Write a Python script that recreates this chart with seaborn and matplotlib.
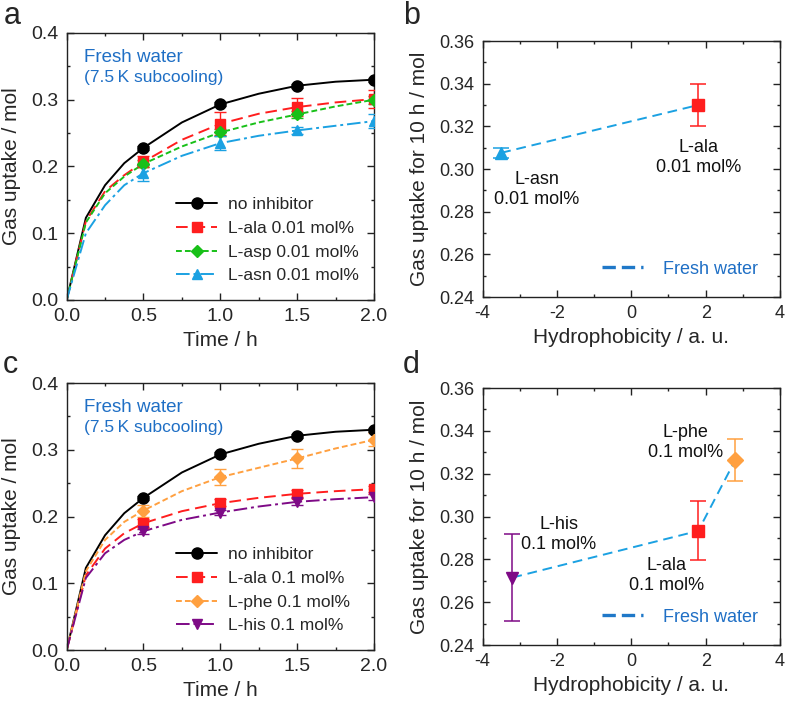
import matplotlib
matplotlib.use("Agg")
import matplotlib.pyplot as plt
from matplotlib.lines import Line2D
from matplotlib.ticker import MultipleLocator
import seaborn as sns

# === Kinetics data (panels a, c) ===
t_line = [0, 0.125, 0.25, 0.375, 0.5, 0.75, 1.0, 1.25, 1.5, 1.75, 2.0]
t_meas = [0.5, 1.0, 1.5, 2.0]

none_line = [0, 0.123, 0.172, 0.205, 0.228, 0.266, 0.293, 0.309, 0.321, 0.327, 0.330]
none_meas = [0.228, 0.293, 0.321, 0.330]
none_err = [0.003, 0.003, 0.003, 0.003]

ala01_line = [0, 0.118, 0.163, 0.187, 0.207, 0.240, 0.264, 0.279, 0.289, 0.296, 0.301]
ala01_meas = [0.207, 0.264, 0.289, 0.301]
ala01_err = [0.008, 0.017, 0.014, 0.013]

asp01_line = [0, 0.116, 0.160, 0.185, 0.204, 0.230, 0.251, 0.266, 0.278, 0.290, 0.300]
asp01_meas = [0.204, 0.251, 0.278, 0.300]
asp01_err = [0.005, 0.005, 0.005, 0.006]

asn01_line = [0, 0.100, 0.142, 0.172, 0.190, 0.216, 0.235, 0.246, 0.254, 0.261, 0.268]
asn01_meas = [0.190, 0.235, 0.254, 0.268]
asn01_err = [0.012, 0.010, 0.005, 0.010]

ala1_line = [0, 0.112, 0.152, 0.175, 0.190, 0.208, 0.220, 0.228, 0.234, 0.238, 0.241]
ala1_meas = [0.190, 0.221, 0.234, 0.241]
ala1_err = [0.006, 0.005, 0.005, 0.005]

phe1_line = [0, 0.118, 0.165, 0.192, 0.209, 0.238, 0.259, 0.273, 0.287, 0.302, 0.315]
phe1_meas = [0.209, 0.259, 0.287, 0.315]
phe1_err = [0.009, 0.012, 0.014, 0.010]

his1_line = [0, 0.108, 0.145, 0.165, 0.178, 0.195, 0.206, 0.215, 0.222, 0.226, 0.229]
his1_meas = [0.178, 0.206, 0.222, 0.229]
his1_err = [0.004, 0.004, 0.005, 0.004]

# === Hydrophobicity data (panels b, d) ===
hyd_b = [-3.5, 1.8]
uptake_b = [0.3076, 0.330]
err_b = [0.0023, 0.0097]

hyd_d = [-3.2, 1.8, 2.8]
uptake_d = [0.2715, 0.2933, 0.3265]
err_d = [0.0205, 0.0138, 0.0098]

# === Styles ===
BLACK, RED, GREEN, BLUE = "#000000", "#FF1E1E", "#18C018", "#1BA1E2"
ORANGE, PURPLE, TXTBLUE = "#FFA040", "#7E0A86", "#1F6FC5"

sns.set_theme(style="ticks")
plt.rcParams['font.family'] = ['Liberation Sans', 'DejaVu Sans']
plt.rcParams['axes.edgecolor'] = "#222222"
plt.rcParams['axes.linewidth'] = 1.0
plt.rcParams['axes.unicode_minus'] = False

fig = plt.figure(figsize=(7.87, 7.05), dpi=100)
ax_a = fig.add_axes([0.0847, 0.5745, 0.3905, 0.3787])
ax_b = fig.add_axes([0.6133, 0.5787, 0.3778, 0.3631])
ax_c = fig.add_axes([0.0847, 0.0780, 0.3905, 0.3787])
ax_d = fig.add_axes([0.6133, 0.0851, 0.3778, 0.3645])


def style_axes(ax, xmaj, xmin, ymaj, ymin, labelsize):
    ax.xaxis.set_major_locator(MultipleLocator(xmaj))
    ax.xaxis.set_minor_locator(MultipleLocator(xmin))
    ax.yaxis.set_major_locator(MultipleLocator(ymaj))
    ax.yaxis.set_minor_locator(MultipleLocator(ymin))
    ax.tick_params(which='both', direction='in', top=True, right=True,
                   color="#222222")
    ax.tick_params(which='major', length=5, width=1, labelsize=labelsize, pad=6)
    ax.tick_params(which='minor', length=2.5, width=1)


def kinetics_panel(ax, series):
    handles = []
    for label, line_vals, meas, err, color, ls, marker, ms in series:
        sns.lineplot(x=t_line, y=line_vals, ax=ax, color=color, linestyle=ls,
                     linewidth=1.4, errorbar=None)
        ax.errorbar(t_meas, meas, yerr=err, fmt=marker, color=color, ms=ms,
                    capsize=4, elinewidth=1, capthick=1, zorder=3)
        handles.append(Line2D([], [], color=color, linestyle=ls, lw=1.4,
                              marker=marker, ms=ms, label=label))
    ax.set_xlim(0, 2.0)
    ax.set_ylim(0, 0.4)
    style_axes(ax, 0.5, 0.25, 0.1, 0.05, 14)
    ax.set_xlabel("Time / h", fontsize=15, labelpad=4)
    ax.set_ylabel("Gas uptake / mol", fontsize=15, labelpad=7)
    ax.text(0.055, 0.91, "Fresh water", transform=ax.transAxes, color=TXTBLUE,
            fontsize=13.5, va='center')
    ax.text(0.055, 0.835, "(7.5\u2009K subcooling)", transform=ax.transAxes,
            color=TXTBLUE, fontsize=12.5, va='center')
    ax.legend(handles=handles, loc='lower left', bbox_to_anchor=(0.355, 0.062),
              frameon=False, fontsize=12.5, handlelength=2.4,
              handletextpad=0.6, labelspacing=0.5, borderpad=0,
              borderaxespad=0)


dash_long = (0, (6, 3))
dash_short = (0, (3, 1.6))
dash_dot = (0, (7, 2, 1.5, 2))

kinetics_panel(ax_a, [
    ("no inhibitor", none_line, none_meas, none_err, BLACK, '-', 'o', 8),
    ("L-ala 0.01 mol%", ala01_line, ala01_meas, ala01_err, RED, dash_long, 's', 7),
    ("L-asp 0.01 mol%", asp01_line, asp01_meas, asp01_err, GREEN, dash_short, 'D', 6.5),
    ("L-asn 0.01 mol%", asn01_line, asn01_meas, asn01_err, BLUE, dash_dot, '^', 7.5),
])

kinetics_panel(ax_c, [
    ("no inhibitor", none_line, none_meas, none_err, BLACK, '-', 'o', 8),
    ("L-ala 0.1 mol%", ala1_line, ala1_meas, ala1_err, RED, dash_long, 's', 7),
    ("L-phe 0.1 mol%", phe1_line, phe1_meas, phe1_err, ORANGE, dash_short, 'D', 6.5),
    ("L-his 0.1 mol%", his1_line, his1_meas, his1_err, PURPLE, dash_dot, 'v', 7.5),
])


def hydro_panel(ax, xs, ys, errs, colors, markers, sizes, labels):
    sns.lineplot(x=xs, y=ys, ax=ax, color=BLUE, linestyle=(0, (5, 3)),
                 linewidth=1.4, errorbar=None, sort=False)
    for x, y, e, c, m, s in zip(xs, ys, errs, colors, markers, sizes):
        ax.errorbar([x], [y], yerr=[e], fmt=m, color=c, ms=s, capsize=6,
                    elinewidth=1.1, capthick=1.1, zorder=3)
    for text, tx, ty in labels:
        ax.text(tx, ty, text, ha='center', va='center', fontsize=13,
                linespacing=1.25, color="#111111")
    ax.set_xlim(-4, 4)
    ax.set_ylim(0.24, 0.36)
    style_axes(ax, 2, 1, 0.02, 0.01, 13)
    ax.set_xlabel("Hydrophobicity / a. u.", fontsize=15, labelpad=4)
    ax.set_ylabel("Gas uptake for 10 h / mol", fontsize=15, labelpad=7)
    handle = Line2D([], [], color="#1F78C8", linestyle=(0, (4, 1.8)), lw=2.4)
    ax.legend(handles=[handle], labels=["Fresh water"], loc='lower left',
              bbox_to_anchor=(0.40, 0.075), frameon=False, fontsize=13,
              labelcolor=TXTBLUE, handlelength=2.3, handletextpad=1.1,
              borderpad=0, borderaxespad=0)


hydro_panel(ax_b, hyd_b, uptake_b, err_b, [BLUE, RED], ['^', 's'], [8, 8],
            [("L-asn\n0.01 mol%", -2.55, 0.2905),
             ("L-ala\n0.01 mol%", 1.8, 0.3055)])

hydro_panel(ax_d, hyd_d, uptake_d, err_d, [PURPLE, RED, ORANGE],
            ['v', 's', 'D'], [8, 8, 8],
            [("L-his\n0.1 mol%", -1.95, 0.2915),
             ("L-ala\n0.1 mol%", 0.95, 0.2725),
             ("L-phe\n0.1 mol%", 1.45, 0.3345)])

# === Panel letters ===
for letter, x, y in [("a", 0.005, 0.978), ("b", 0.512, 0.978),
                     ("c", 0.003, 0.482), ("d", 0.512, 0.482)]:
    fig.text(x, y, letter, fontsize=22, va='center', ha='left')

plt.savefig("out.png", dpi=100)
